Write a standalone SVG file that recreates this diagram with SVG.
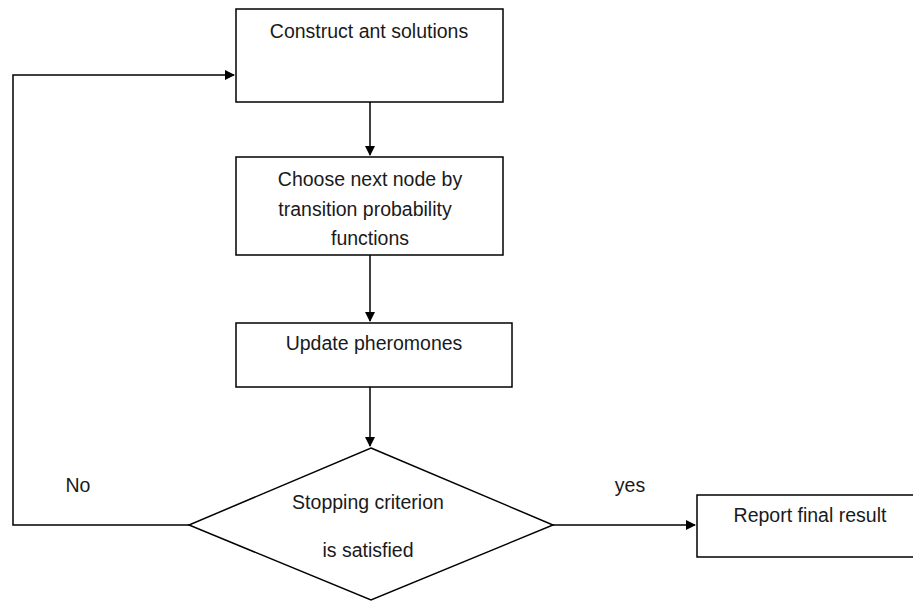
<svg xmlns="http://www.w3.org/2000/svg" width="913" height="601" viewBox="0 0 913 601">
<style>
.box{fill:#fff;stroke:#000;stroke-width:1.5}
.t{font-family:"Liberation Sans",Arial,sans-serif;font-size:19.5px;fill:#1a1a1a;text-anchor:middle}
.c{fill:none;stroke:#000;stroke-width:1.5}
</style>
<defs>
<marker id="ah" markerWidth="10" markerHeight="10" refX="9" refY="5" orient="auto" markerUnits="userSpaceOnUse">
<path d="M0,0 L10,5 L0,10 z" fill="#000"/>
</marker>
</defs>
<rect width="913" height="601" fill="#fff"/>
<g id="connectors">
<path class="c" d="M370,102 V155" marker-end="url(#ah)"/>
<path class="c" d="M370,255 V321" marker-end="url(#ah)"/>
<path class="c" d="M370,387 V446" marker-end="url(#ah)"/>
<path class="c" d="M189,525 H13 V75 H234" marker-end="url(#ah)"/>
<path class="c" d="M553,525 H695" marker-end="url(#ah)"/>
<text class="t" x="78" y="492">No</text>
<text class="t" x="630" y="492">yes</text>
</g>
<g id="n1">
<rect class="box" x="236" y="9" width="267" height="93"/>
<text class="t" x="369" y="38">Construct ant solutions</text>
</g>
<g id="n2">
<rect class="box" x="236" y="157" width="267" height="98"/>
<text class="t" x="370" y="186">Choose next node by</text>
<text class="t" x="365" y="216">transition probability</text>
<text class="t" x="370" y="245">functions</text>
</g>
<g id="n3">
<rect class="box" x="236" y="323" width="276" height="64"/>
<text class="t" x="374" y="350">Update pheromones</text>
</g>
<g id="n4">
<path class="box" d="M371,448 L553,525 L371,600 L189,525 Z"/>
<text class="t" x="368" y="509">Stopping criterion</text>
<text class="t" x="368" y="557">is satisfied</text>
</g>
<g id="n5">
<rect class="box" x="697" y="495" width="220" height="62"/>
<text class="t" x="810" y="522">Report final result</text>
</g>
</svg>
